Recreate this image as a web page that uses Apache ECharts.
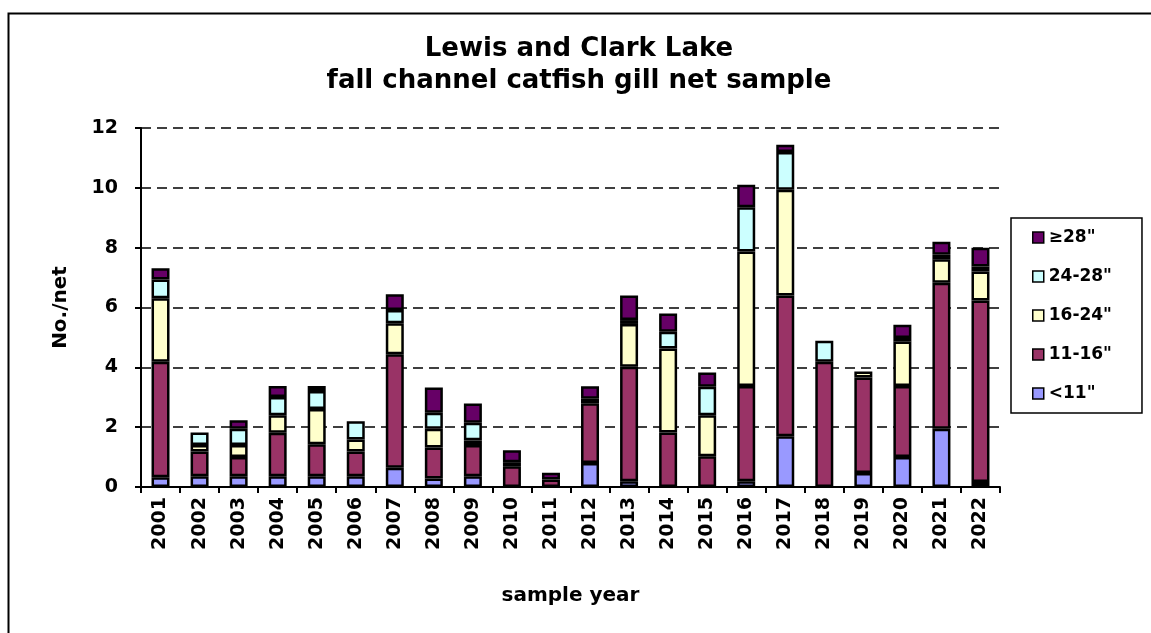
<!DOCTYPE html>
<html>
<head>
<meta charset="utf-8">
<script src="https://cdn.jsdelivr.net/npm/echarts@6/dist/echarts.min.js"></script>
<style>
html,body{margin:0;padding:0;background:#fff;}
#chart{width:1151px;height:633px;}
</style>
</head>
<body>
<div id="chart"></div>
<script>
const years = ['2001','2002','2003','2004','2005','2006','2007','2008','2009','2010','2011','2012','2013','2014','2015','2016','2017','2018','2019','2020','2021','2022'];
const seriesNames = ['<11"', '11-16"', '16-24"', '24-28"', '\u226528"'];
const under11 =   [0.33, 0.36, 0.36, 0.36, 0.36, 0.36, 0.64, 0.28, 0.36, 0,    0,    0.80, 0.19, 0,    0,    0.19, 1.70, 0,    0.47, 1.00, 1.95, 0.17];
const s11to16 =   [3.86, 0.83, 0.64, 1.45, 1.07, 0.83, 3.80, 1.04, 1.04, 0.69, 0.25, 2.00, 3.83, 1.82, 1.03, 3.19, 4.70, 4.19, 3.19, 2.38, 4.88, 6.06];
const s16to24 =   [2.12, 0.21, 0.40, 0.59, 1.18, 0.40, 1.03, 0.63, 0.16, 0.14, 0,    0.15, 1.43, 2.81, 1.37, 4.49, 3.54, 0,    0.20, 1.48, 0.78, 0.97];
const s24to28 =   [0.63, 0.42, 0.55, 0.61, 0.60, 0.61, 0.45, 0.53, 0.59, 0,    0,    0,    0.13, 0.56, 0.95, 1.48, 1.26, 0.70, 0,    0.12, 0.15, 0.17];
const over28 =    [0.37, 0,    0.28, 0.37, 0.17, 0,    0.52, 0.85, 0.64, 0.40, 0.23, 0.42, 0.82, 0.61, 0.48, 0.75, 0.24, 0,    0,    0.44, 0.44, 0.63];
const yTicks = [0, 2, 4, 6, 8, 10, 12];
const colors = ['#9999FF', '#993366', '#FFFFCC', '#CCFFFF', '#660066'];
const allData = [under11, s11to16, s16to24, s24to28, over28];

const FONT = '"DejaVu Sans", "Liberation Sans", Arial, sans-serif';
const chart = echarts.init(document.getElementById('chart'), null, {renderer: 'canvas'});

const series = seriesNames.map((name, i) => ({
  name: name,
  type: 'bar',
  stack: 'total',
  barWidth: 18,
  data: allData[i].map(v => v === 0 ? null : v),
  itemStyle: {color: colors[i], borderColor: '#000', borderWidth: 2.5},
  emphasis: {disabled: true}
}));

chart.setOption({
  animation: false,
  backgroundColor: '#fff',
  title: {
    text: 'Lewis and Clark Lake\nfall channel catfish gill net sample',
    left: 574, textAlign: 'center', top: 28,
    textStyle: {fontFamily: FONT, fontWeight: 'bold', fontSize: 26, lineHeight: 32, color: '#000'}
  },
  graphic: [{
    type: 'rect', left: 6, top: 11, silent: true,
    shape: {width: 1300, height: 800},
    style: {fill: null, stroke: '#000', lineWidth: 2}
  }],
  legend: {
    orient: 'vertical',
    left: 1011, top: 218,
    data: seriesNames.slice().reverse(),
    itemWidth: 11, itemHeight: 11, itemGap: 22,
    padding: [11, 30, 11, 21],
    borderColor: '#000', borderWidth: 1.5,
    icon: 'rect',
    itemStyle: {borderColor: '#000', borderWidth: 1.5},
    textStyle: {fontFamily: FONT, fontWeight: 'bold', fontSize: 17, color: '#000'}
  },
  grid: {left: 141, right: 151, top: 128, bottom: 146, containLabel: false},
  xAxis: {
    type: 'category',
    data: years,
    name: 'sample year', nameLocation: 'middle', nameGap: 99,
    nameTextStyle: {fontFamily: FONT, fontWeight: 'bold', fontSize: 20, color: '#000'},
    axisLine: {lineStyle: {color: '#000', width: 2}},
    axisTick: {show: true, alignWithLabel: false, length: 6, lineStyle: {color: '#000', width: 2}},
    axisLabel: {rotate: 90, interval: 0, margin: 10, fontFamily: FONT, fontWeight: 'bold', fontSize: 19, color: '#000'},
    splitLine: {show: false}
  },
  yAxis: {
    type: 'value',
    min: 0, max: 12, interval: 2,
    name: 'No./net', nameLocation: 'middle', nameGap: 70, nameRotate: 90,
    nameTextStyle: {fontFamily: FONT, fontWeight: 'bold', fontSize: 20, color: '#000'},
    axisLine: {show: true, lineStyle: {color: '#000', width: 2}},
    axisTick: {show: true, length: 6, lineStyle: {color: '#000', width: 2}},
    axisLabel: {
      margin: 23, fontFamily: FONT, fontWeight: 'bold', fontSize: 19, color: '#000',
      formatter: v => yTicks.includes(v) ? String(v) : ''
    },
    splitLine: {show: true, lineStyle: {color: '#000', width: 1.5, type: [10, 6]}}
  },
  series: series
});
</script>
</body>
</html>
